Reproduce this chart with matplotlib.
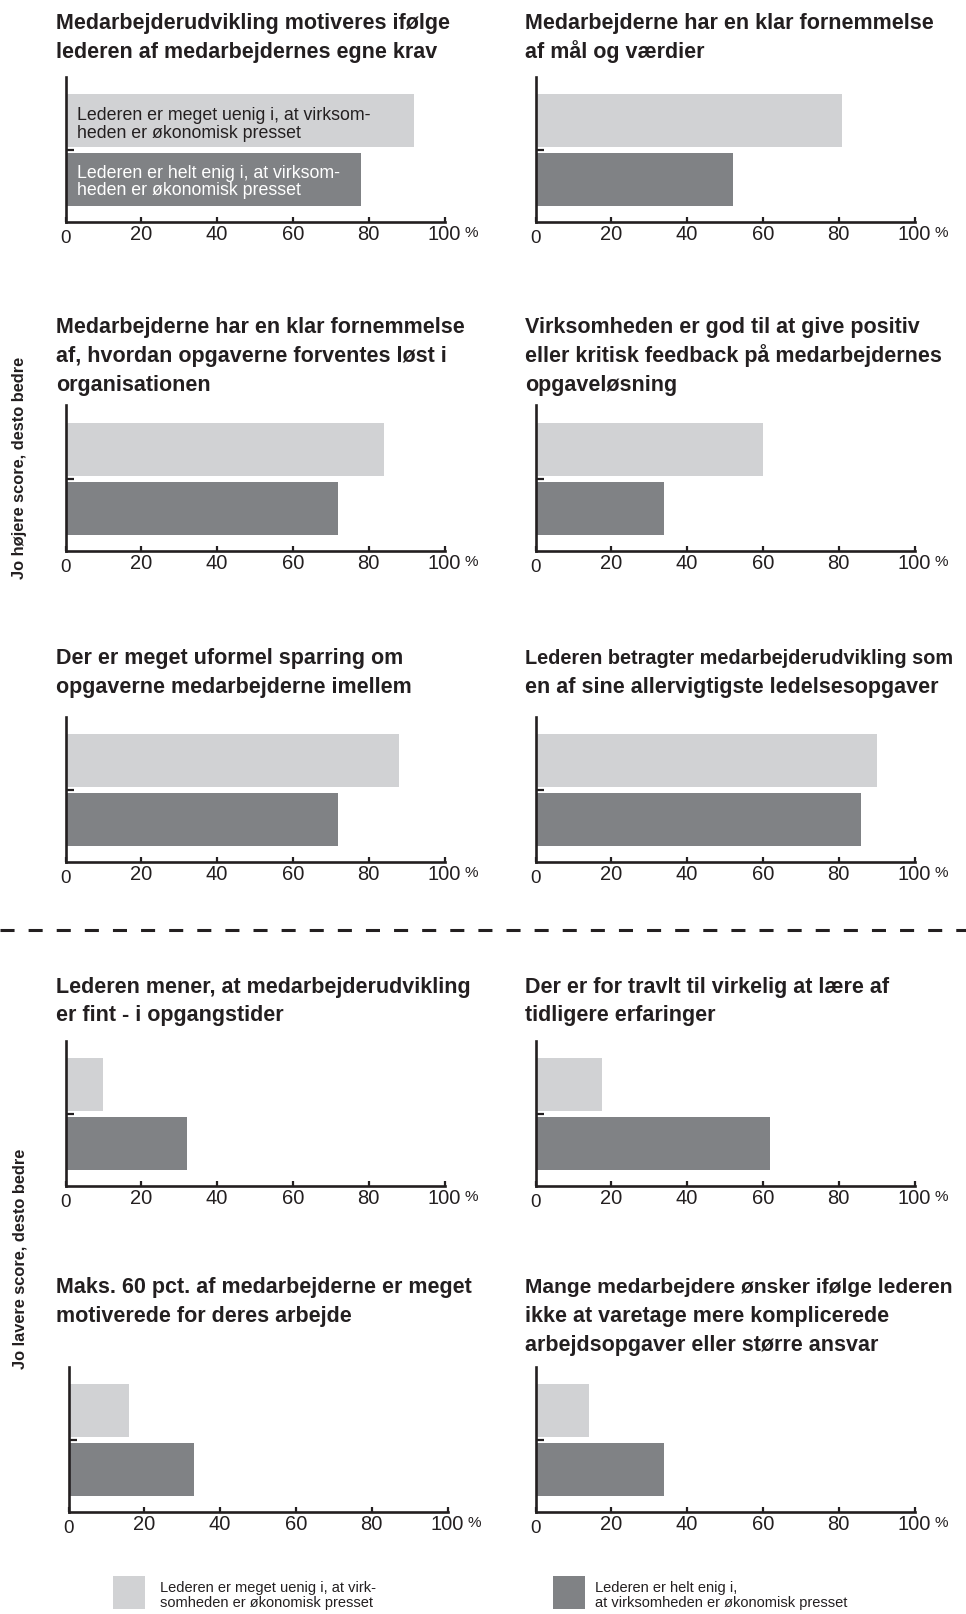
"""Ledelse og medarbejderudvikling: ti små søjlediagrammer i to kolonner."""

import matplotlib

matplotlib.use("Agg")
import matplotlib.pyplot as plt
from matplotlib.patches import Rectangle

W, H = 966, 1614

TITLES = [
    "Medarbejderudvikling motiveres ifølge\nlederen af medarbejdernes egne krav",
    "Medarbejderne har en klar fornemmelse\naf mål og værdier",
    "Medarbejderne har en klar fornemmelse\naf, hvordan opgaverne forventes løst i\norganisationen",
    "Virksomheden er god til at give positiv\neller kritisk feedback på medarbejdernes\nopgaveløsning",
    "Der er meget uformel sparring om\nopgaverne medarbejderne imellem",
    "Lederen betragter medarbejderudvikling som\nen af sine allervigtigste ledelsesopgaver",
    "Lederen mener, at medarbejderudvikling\ner fint - i opgangstider",
    "Der er for travlt til virkelig at lære af\ntidligere erfaringer",
    "Maks. 60 pct. af medarbejderne er meget\nmotiverede for deres arbejde",
    "Mange medarbejdere ønsker ifølge lederen\nikke at varetage mere komplicerede\narbejdsopgaver eller større ansvar",
]
UENIG = [92, 81, 84, 60, 88, 90, 10, 17.5, 16, 14]
ENIG = [78, 52, 72, 34, 72, 86, 32, 62, 33, 34]
SERIES_IN_BAR = [
    "Lederen er meget uenig i, at virksom-\nheden er økonomisk presset",
    "Lederen er helt enig i, at virksom-\nheden er økonomisk presset",
]
SERIES_LEGEND = [
    "Lederen er meget uenig i, at virk-\nsomheden er økonomisk presset",
    "Lederen er helt enig i,\nat virksomheden er økonomisk presset",
]
SIDE_LABELS = ["Jo højere score, desto bedre", "Jo lavere score, desto bedre"]
TICKS = [0, 20, 40, 60, 80, 100]

LIGHT = "#d1d2d4"
DARK = "#808285"
INK = "#231f20"

# layout, pixels measured from the top-left corner
ROW_AXIS_Y = [222, 550.5, 862, 1186, 1512]
ROW_TITLE_Y = [29.3, 333.3, 664.3, 992.7, 1293.3]
COL_X0 = [65.5, 535.5]
COL_TITLE_X = [56, 525]
AX_W, AX_H = 379, 145
TITLE_STEP = 28.7
TITLE_MAX_W = 428

plt.rcParams["font.family"] = ["Liberation Sans", "DejaVu Sans"]

fig = plt.figure(figsize=(W / 100, H / 100), dpi=100)
canvas = fig.add_axes([0, 0, 1, 1])
canvas.set_xlim(0, W)
canvas.set_ylim(H, 0)
canvas.axis("off")
canvas.set_zorder(10)  # texts on top of the panels
renderer = fig.canvas.get_renderer()

for i, title in enumerate(TITLES):
    row, col = divmod(i, 2)
    x0 = COL_X0[col] + (3 if (row == 4 and col == 0) else 0)
    ybot = ROW_AXIS_Y[row]
    ax = fig.add_axes([x0 / W, 1 - ybot / H, AX_W / W, AX_H / H])
    ax.barh([1, 0], [UENIG[i], ENIG[i]], height=0.9, color=[LIGHT, DARK])
    ax.set_xlim(0, 100)
    ax.set_ylim(-0.72, 1.74)
    for s in ("top", "right"):
        ax.spines[s].set_visible(False)
    for s in ("left", "bottom"):
        ax.spines[s].set_linewidth(1.9)
        ax.spines[s].set_color(INK)
    ax.set_xticks(TICKS)
    ax.set_xticklabels([""] + [str(t) for t in TICKS[1:]])
    ax.tick_params(axis="x", direction="in", length=3.6, width=1.6, pad=2.4,
                   labelsize=14.5, labelcolor=INK, color=INK)
    ax.set_yticks([0.5])
    ax.set_yticklabels([])
    ax.tick_params(axis="y", direction="in", length=6, width=1.6, color=INK)
    ax.annotate("0", xy=(0, 0), xycoords=("data", "axes fraction"), xytext=(0, -8),
                textcoords="offset pixels", ha="center", va="top", fontsize=13.5, color=INK)
    ax.annotate("%", xy=(100, 0), xycoords=("data", "axes fraction"), xytext=(20, -4),
                textcoords="offset pixels", ha="left", va="top", fontsize=11, color=INK)

    for j, line in enumerate(title.split("\n")):
        t = canvas.text(COL_TITLE_X[col], ROW_TITLE_Y[row] + j * TITLE_STEP, line,
                        fontsize=15.5, fontweight="bold", va="baseline", color=INK)
        w = t.get_window_extent(renderer).width
        if w > TITLE_MAX_W:
            t.set_fontsize(15.5 * TITLE_MAX_W / w)

# series names written inside the bars of the first panel
for name, base, c in zip(SERIES_IN_BAR, [120.5, 178], [INK, "white"]):
    for j, line in enumerate(name.split("\n")):
        canvas.text(76.7, base + j * 17, line, fontsize=12.8, va="baseline", color=c)

for label, yc in zip(SIDE_LABELS, [468, 1259]):
    canvas.text(20, yc, label, rotation=90, ha="center", va="center",
                fontsize=11.8, fontweight="bold", color=INK)

canvas.plot([0, W], [930, 930], color=INK, lw=2.2, ls=(0, (4.6, 4.6)), clip_on=False)

# legend
for name, c, sx, tx in zip(SERIES_LEGEND, [LIGHT, DARK], [113, 553], [160, 595]):
    canvas.add_patch(Rectangle((sx, 1576), 32, 33, facecolor=c, edgecolor="none"))
    for j, line in enumerate(name.split("\n")):
        canvas.text(tx, 1592 + j * 15.5, line, fontsize=10.5, va="baseline", color=INK)

fig.savefig("out.png", dpi=100)
